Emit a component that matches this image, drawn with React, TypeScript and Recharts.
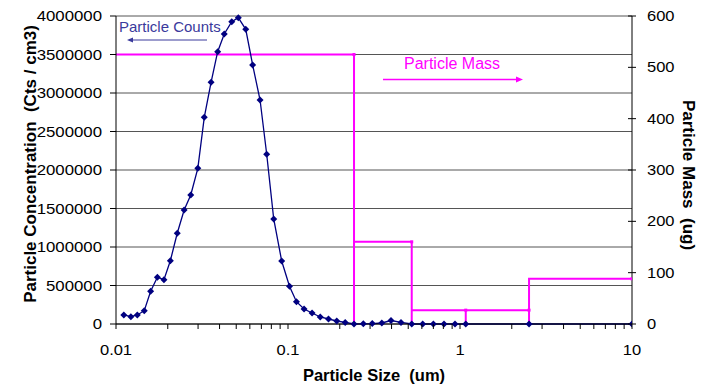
import { ComposedChart, Line, XAxis, YAxis, CartesianGrid, Customized } from 'recharts';

// particle size (um) of each count channel
const sizes = [
  0.0111, 0.0122, 0.0133, 0.0146, 0.0159, 0.0174, 0.019, 0.0207, 0.0227, 0.0249,
  0.0272, 0.0299, 0.0326, 0.0357, 0.039, 0.0426, 0.0471, 0.0514, 0.0568, 0.0623,
  0.0688, 0.0752, 0.0826, 0.0919, 0.102, 0.112, 0.124, 0.138, 0.154, 0.172,
  0.192, 0.215, 0.242, 0.274, 0.309, 0.351, 0.397, 0.454, 0.524, 0.607,
  0.7, 0.807, 0.935, 1.08, 2.52, 10,
];

// particle concentration (Cts / cm3)
const counts = [
  117000, 95000, 117000, 173000, 425000, 607000, 575000, 822000, 1178000, 1480000,
  1675000, 2022000, 2684000, 3139000, 3536000, 3766000, 3926000, 3978000, 3827000, 3364000,
  2909000, 2204000, 1364000, 818000, 490000, 290000, 195000, 143000, 91000, 65000,
  39000, 20000, 0, 2000, 5000, 13000, 45000, 21000, 0, 0,
  0, 0, 0, 0, 0, 0,
];

// mass bins (ug): edges and value per bin
const massEdges = [0.01, 0.242, 0.524, 1.08, 2.52, 10];
const massValues = [525, 160, 27, 27, 88];

const xTicks = [
  0.01, 0.02, 0.03, 0.04, 0.05, 0.06, 0.07, 0.08, 0.09,
  0.1, 0.2, 0.3, 0.4, 0.5, 0.6, 0.7, 0.8, 0.9,
  1, 2, 3, 4, 5, 6, 7, 8, 9, 10,
];
const leftTicks = [0, 500000, 1000000, 1500000, 2000000, 2500000, 3000000, 3500000, 4000000];
const rightTicks = [0, 100, 200, 300, 400, 500, 600];

const countData = sizes.map((s, i) => ({ x: s, y: counts[i] }));

// step outline: each bin drops to zero at its right edge
const massData: Array<{ x: number; y: number; m?: boolean }> = [];
massValues.forEach((v, i) => {
  if (i > 0) massData.push({ x: massEdges[i], y: 0 });
  massData.push({ x: massEdges[i], y: v });
  massData.push({ x: massEdges[i + 1], y: v, m: true });
});

const FONT = 'Liberation Sans, Arial, sans-serif';
const NAVY = '#000080';
const MAGENTA = '#ff00ff';
const PRE = { whiteSpace: 'pre' as const };

const LeftTick = (props: any) => {
  const { x, y, payload } = props;
  return (
    <g>
      <line x1={x - 6} x2={x} y1={y} y2={y} stroke="#000" />
      <text transform={`translate(${x - 14},${y + 5}) scale(1.12,1)`} textAnchor="end" fontSize={15} fontFamily={FONT} fill="#000">
        {payload.value}
      </text>
    </g>
  );
};

const RightTick = (props: any) => {
  const { x, y, payload } = props;
  return (
    <g>
      <line x1={x - 4} x2={x + 4} y1={y} y2={y} stroke="#000" />
      <text transform={`translate(${x + 15},${y + 5}) scale(1.1,1)`} textAnchor="start" fontSize={15} fontFamily={FONT} fill="#000">
        {payload.value}
      </text>
    </g>
  );
};

const BottomTick = (props: any) => {
  const { x, y, payload } = props;
  const lg = Math.log10(payload.value);
  const decade = Math.abs(lg - Math.round(lg)) < 1e-9;
  return (
    <g>
      <line x1={x} x2={x} y1={y} y2={y + 5} stroke="#000" />
      {decade && (
        <text transform={`translate(${x},${y + 31}) scale(1.1,1)`} textAnchor="middle" fontSize={15} fontFamily={FONT} fill="#000">
          {String(payload.value)}
        </text>
      )}
    </g>
  );
};

const Diamond = (props: any) => {
  const { cx, cy, index } = props;
  const r = 3.5;
  return <path key={`d-${index}`} d={`M${cx},${cy - r}L${cx + r},${cy}L${cx},${cy + r}L${cx - r},${cy}Z`} fill={NAVY} />;
};

const MassDot = (props: any) => {
  const { cx, cy, index, payload } = props;
  if (!payload.m) return <g key={`m-${index}`} />;
  return <rect key={`m-${index}`} x={cx - 1.5} y={cy - 1.5} width={3} height={3} fill={MAGENTA} />;
};

const Annotations = () => (
  <g fontFamily={FONT}>
    <text x={119} y={31.5} fontSize={15} fill="#3a3a9c">Particle Counts</text>
    <line x1={207} x2={130} y1={40} y2={40} stroke="#3a3a9c" strokeWidth={1} />
    <path d="M127,40 L133,37.5 L133,42.5 Z" fill="#3a3a9c" />
    <text x={404} y={69} fontSize={16} fill={MAGENTA}>Particle Mass</text>
    <line x1={383} x2={518} y1={79.5} y2={79.5} stroke={MAGENTA} strokeWidth={1.5} />
    <path d="M523,79.5 L516,76.5 L516,82.5 Z" fill={MAGENTA} />
    <text transform="translate(35.5,164) rotate(-90)" textAnchor="middle" fontSize={17} fontWeight="bold" fill="#000" style={PRE}>
      {'Particle Concentration  (Cts / cm3)'}
    </text>
    <text transform="translate(683,175) rotate(90)" textAnchor="middle" fontSize={17} fontWeight="bold" fill="#000" style={PRE}>
      {'Particle Mass  (ug)'}
    </text>
    <text x={374} y={381} textAnchor="middle" fontSize={16.5} fontWeight="bold" fill="#000" style={PRE}>
      {'Particle Size  (um)'}
    </text>
  </g>
);

const App = () => {
  return (
    <div style={{ position: 'absolute', left: 0, top: 0, background: '#fff' }}>
      <ComposedChart width={702} height={386} margin={{ top: 16, right: 0, bottom: 0, left: 0 }}>
        <CartesianGrid yAxisId="left" vertical={false} stroke="#555" />
        <XAxis
          dataKey="x"
          type="number"
          scale="log"
          domain={[0.01, 10]}
          allowDataOverflow
          ticks={xTicks}
          interval={0}
          height={62}
          tickSize={0}
          tickMargin={0}
          tickLine={false}
          axisLine={{ stroke: '#000' }}
          tick={<BottomTick />}
        />
        <YAxis
          yAxisId="left"
          orientation="left"
          type="number"
          domain={[0, 4000000]}
          ticks={leftTicks}
          interval={0}
          width={116}
          tickSize={0}
          tickMargin={0}
          tickLine={false}
          axisLine={{ stroke: '#000' }}
          tick={<LeftTick />}
        />
        <YAxis
          yAxisId="right"
          orientation="right"
          type="number"
          domain={[0, 600]}
          ticks={rightTicks}
          interval={0}
          width={70}
          tickSize={0}
          tickMargin={0}
          tickLine={false}
          axisLine={{ stroke: '#000' }}
          tick={<RightTick />}
        />
        <Line
          yAxisId="right"
          data={massData}
          dataKey="y"
          type="linear"
          stroke={MAGENTA}
          strokeWidth={2}
          dot={MassDot}
          activeDot={false}
          isAnimationActive={false}
        />
        <Line
          yAxisId="left"
          data={countData}
          dataKey="y"
          type="linear"
          stroke={NAVY}
          strokeWidth={1.3}
          dot={Diamond}
          activeDot={false}
          isAnimationActive={false}
        />
        <Customized component={Annotations} />
      </ComposedChart>
    </div>
  );
};

export default App;
